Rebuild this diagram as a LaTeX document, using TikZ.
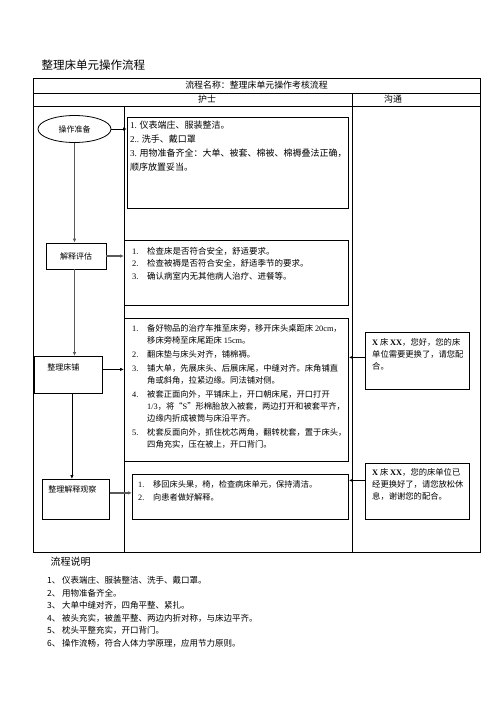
\documentclass[tikz,border=0pt]{standalone}
\usepackage{fontspec}
\setmainfont{Noto Sans CJK SC}
\newfontfamily\lat{Liberation Serif}
\usepackage{tikz}
\usetikzlibrary{arrows.meta, calc, shapes.geometric}

\newcommand{\latn}[1]{{\lat #1}}

\tikzset{
  frame/.style={draw, line width=0.8pt},
  stepbox/.style={draw, line width=0.8pt, rectangle, inner sep=0pt, anchor=north west},
  boxtext/.style={inner sep=0pt, anchor=north west},
  darrow/.style={line width=0.8pt, -{Latex[length=4pt,width=3.5pt]}},
  garrow/.style={line width=1.4pt, draw=gray!70!black, -{Latex[length=4pt,width=3.5pt]}},
  flowlabel/.style={draw, line width=0.8pt, font=\fontsize{8}{10}\selectfont},
}

\begin{document}
\begin{tikzpicture}[x=1pt, y=-1pt]
    \useasboundingbox (0,0) rectangle (496,702);

    % Title
    \node[anchor=west, font=\fontsize{11.5}{14}\selectfont] (title) at (38,65) {整理床单元操作流程};

    % Draw the table
    \draw[frame] (33,78) rectangle (480,552);
    \draw[frame] (33,93) -- (480,93);
    \draw[frame] (33,106) -- (480,106);
    \draw[frame] (352,93) -- (352,552);
    \draw[frame] (124,106) -- (124,552);

    % Header texts
    \node[font=\fontsize{8.9}{11}\selectfont] (head) at (256.5,85.5) {流程名称：整理床单元操作考核流程};
    \node[font=\fontsize{8.9}{11}\selectfont] (nurse) at (207,99.5) {护士};
    \node[font=\fontsize{8.9}{11}\selectfont] (talk) at (393,99.5) {沟通};

    % Flow steps on the left
    \node[flowlabel, ellipse, minimum width=73pt, minimum height=27pt, inner sep=0pt] (prep) at (74.5,129) {操作准备};
    \node[flowlabel, minimum width=60pt, minimum height=26pt, inner sep=0pt] (assess) at (76,256) {解释评估};
    \node[flowlabel, anchor=north west, text width=42pt, align=left, inner xsep=13pt, inner ysep=0pt,
          text height=14pt, text depth=23pt] (bed) at (34,356) {整理床铺};
    \node[flowlabel, anchor=north west, text width=55pt, align=left, inner xsep=6pt, inner ysep=0pt,
          text height=13pt, text depth=27pt] (tidy) at (42,479) {整理解释观察};

    % Content boxes
    \node[stepbox, minimum width=221pt, minimum height=91pt] (boxa) at (127,117) {};
    \node[stepbox, minimum width=224pt, minimum height=65pt] (boxb) at (124,240) {};
    \node[stepbox, minimum width=224pt, minimum height=143pt] (boxc) at (124,318) {};
    \node[stepbox, minimum width=216pt, minimum height=45pt] (boxd) at (132,474) {};
    \node[stepbox, minimum width=104pt, minimum height=57pt] (boxe) at (365,332) {};
    \node[stepbox, minimum width=104pt, minimum height=56pt] (boxf) at (365,463) {};

    % Texts of the boxes
    \node[boxtext, font=\fontsize{9}{14}\selectfont] (texta) at (130,118.6) {%
      \begin{tabular}{@{}l@{}}
        \latn{1.} 仪表端庄、服装整洁。\\
        \latn{2..} 洗手、戴口罩\\
        \latn{3.} 用物准备齐全：大单、被套、棉被、棉褥叠法正确，\\
        顺序放置妥当。
      \end{tabular}};
    \node[boxtext, font=\fontsize{8.5}{12.5}\selectfont] (textb) at (132,245.5) {%
      \begin{tabular}{@{}p{15pt}@{}l@{}}
        \latn{1.} & 检查床是否符合安全，舒适要求。\\
        \latn{2.} & 检查被褥是否符合安全，舒适季节的要求。\\
        \latn{3.} & 确认病室内无其他病人治疗、进餐等。
      \end{tabular}};
    \node[boxtext, font=\fontsize{8.3}{12}\selectfont] (textc) at (132,322.8) {%
      \begin{tabular}{@{}p{15pt}@{}l@{}}
        \latn{1.} & 备好物品的治疗车推至床旁，移开床头桌距床 \latn{20cm}，\\
                  & 移床旁椅至床尾距床 \latn{15cm}。\\[2pt]
        \latn{2.} & 翻床垫与床头对齐，铺棉褥。\\[2pt]
        \latn{3.} & 铺大单，先展床头、后展床尾，中缝对齐。床角铺直\\
                  & 角或斜角，拉紧边缘。同法铺对侧。\\[2pt]
        \latn{4.} & 被套正面向外，平铺床上，开口朝床尾，开口打开\\
                  & \latn{1/3}，将“\latn{S}”形棉胎放入被套，两边打开和被套平齐，\\
                  & 边缘内折成被筒与床沿平齐。\\[2pt]
        \latn{5.} & 枕套反面向外，抓住枕芯两角，翻转枕套，置于床头，\\
                  & 四角充实，压在被上，开口背门。
      \end{tabular}};
    \node[boxtext, font=\fontsize{8.2}{13.5}\selectfont] (textd) at (138,477.7) {%
      \begin{tabular}{@{}p{15pt}@{}l@{}}
        \latn{1.} & 移回床头果，椅，检查病床单元，保持清洁。\\
        \latn{2.} & 向患者做好解释。
      \end{tabular}};
    \node[boxtext, font=\fontsize{8.3}{12.3}\selectfont] (texte) at (372,336.3) {%
      \begin{tabular}{@{}l@{}}
        {\lat\bfseries X} 床 {\lat\bfseries XX}，您好，您的床\\
        单位需要更换了，请您配\\
        合。
      \end{tabular}};
    \node[boxtext, font=\fontsize{8.3}{12.3}\selectfont] (textf) at (372,466.3) {%
      \begin{tabular}{@{}l@{}}
        {\lat\bfseries X} 床 {\lat\bfseries XX}，您的床单位已\\
        经更换好了，请您放松休\\
        息，谢谢您的配合。
      \end{tabular}};

    % Arrows down the flow
    \draw[garrow] (prep.south) -- (prep.south |- assess.north);
    \draw[garrow] (prep.south |- assess.south) -- (prep.south |- bed.north);
    \draw[darrow] ([xshift=3.5pt]bed.south) -- ([xshift=3.5pt]bed.south |- tidy.north);

    % Arrows to the content boxes
    \draw[darrow] (prep.east) -- (prep.east -| boxa.west);
    \draw[garrow] (assess.east) -- (assess.east -| boxb.west);
    \draw[darrow] ([yshift=5.5pt]bed.east) -- ([yshift=5.5pt]bed.east -| boxc.west);
    \draw[garrow] ([yshift=6.5pt]tidy.east) -- ([yshift=6.5pt]tidy.east -| boxd.west);
    \draw[darrow] ([yshift=3.5pt]boxe.west) -- ([yshift=3.5pt]boxe.west -| boxc.east);
    \draw[darrow] ([yshift=11pt]boxf.west) -- ([yshift=11pt]boxf.west -| boxd.east);

    % Notes under the table
    \node[anchor=west, font=\fontsize{10}{12}\selectfont] (notehead) at (47,562) {流程说明};
    \node[boxtext, font=\fontsize{8.5}{12.6}\selectfont] (notes) at (47,574.4) {%
      \begin{tabular}{@{}p{15pt}@{}l@{}}
        1、 & 仪表端庄、服装整洁、洗手、戴口罩。\\
        2、 & 用物准备齐全。\\
        3、 & 大单中缝对齐，四角平整、紧扎。\\
        4、 & 被头充实，被盖平整、两边内折对称，与床边平齐。\\
        5、 & 枕头平整充实，开口背门。\\
        6、 & 操作流畅，符合人体力学原理，应用节力原则。
      \end{tabular}};

\end{tikzpicture}
\end{document}
